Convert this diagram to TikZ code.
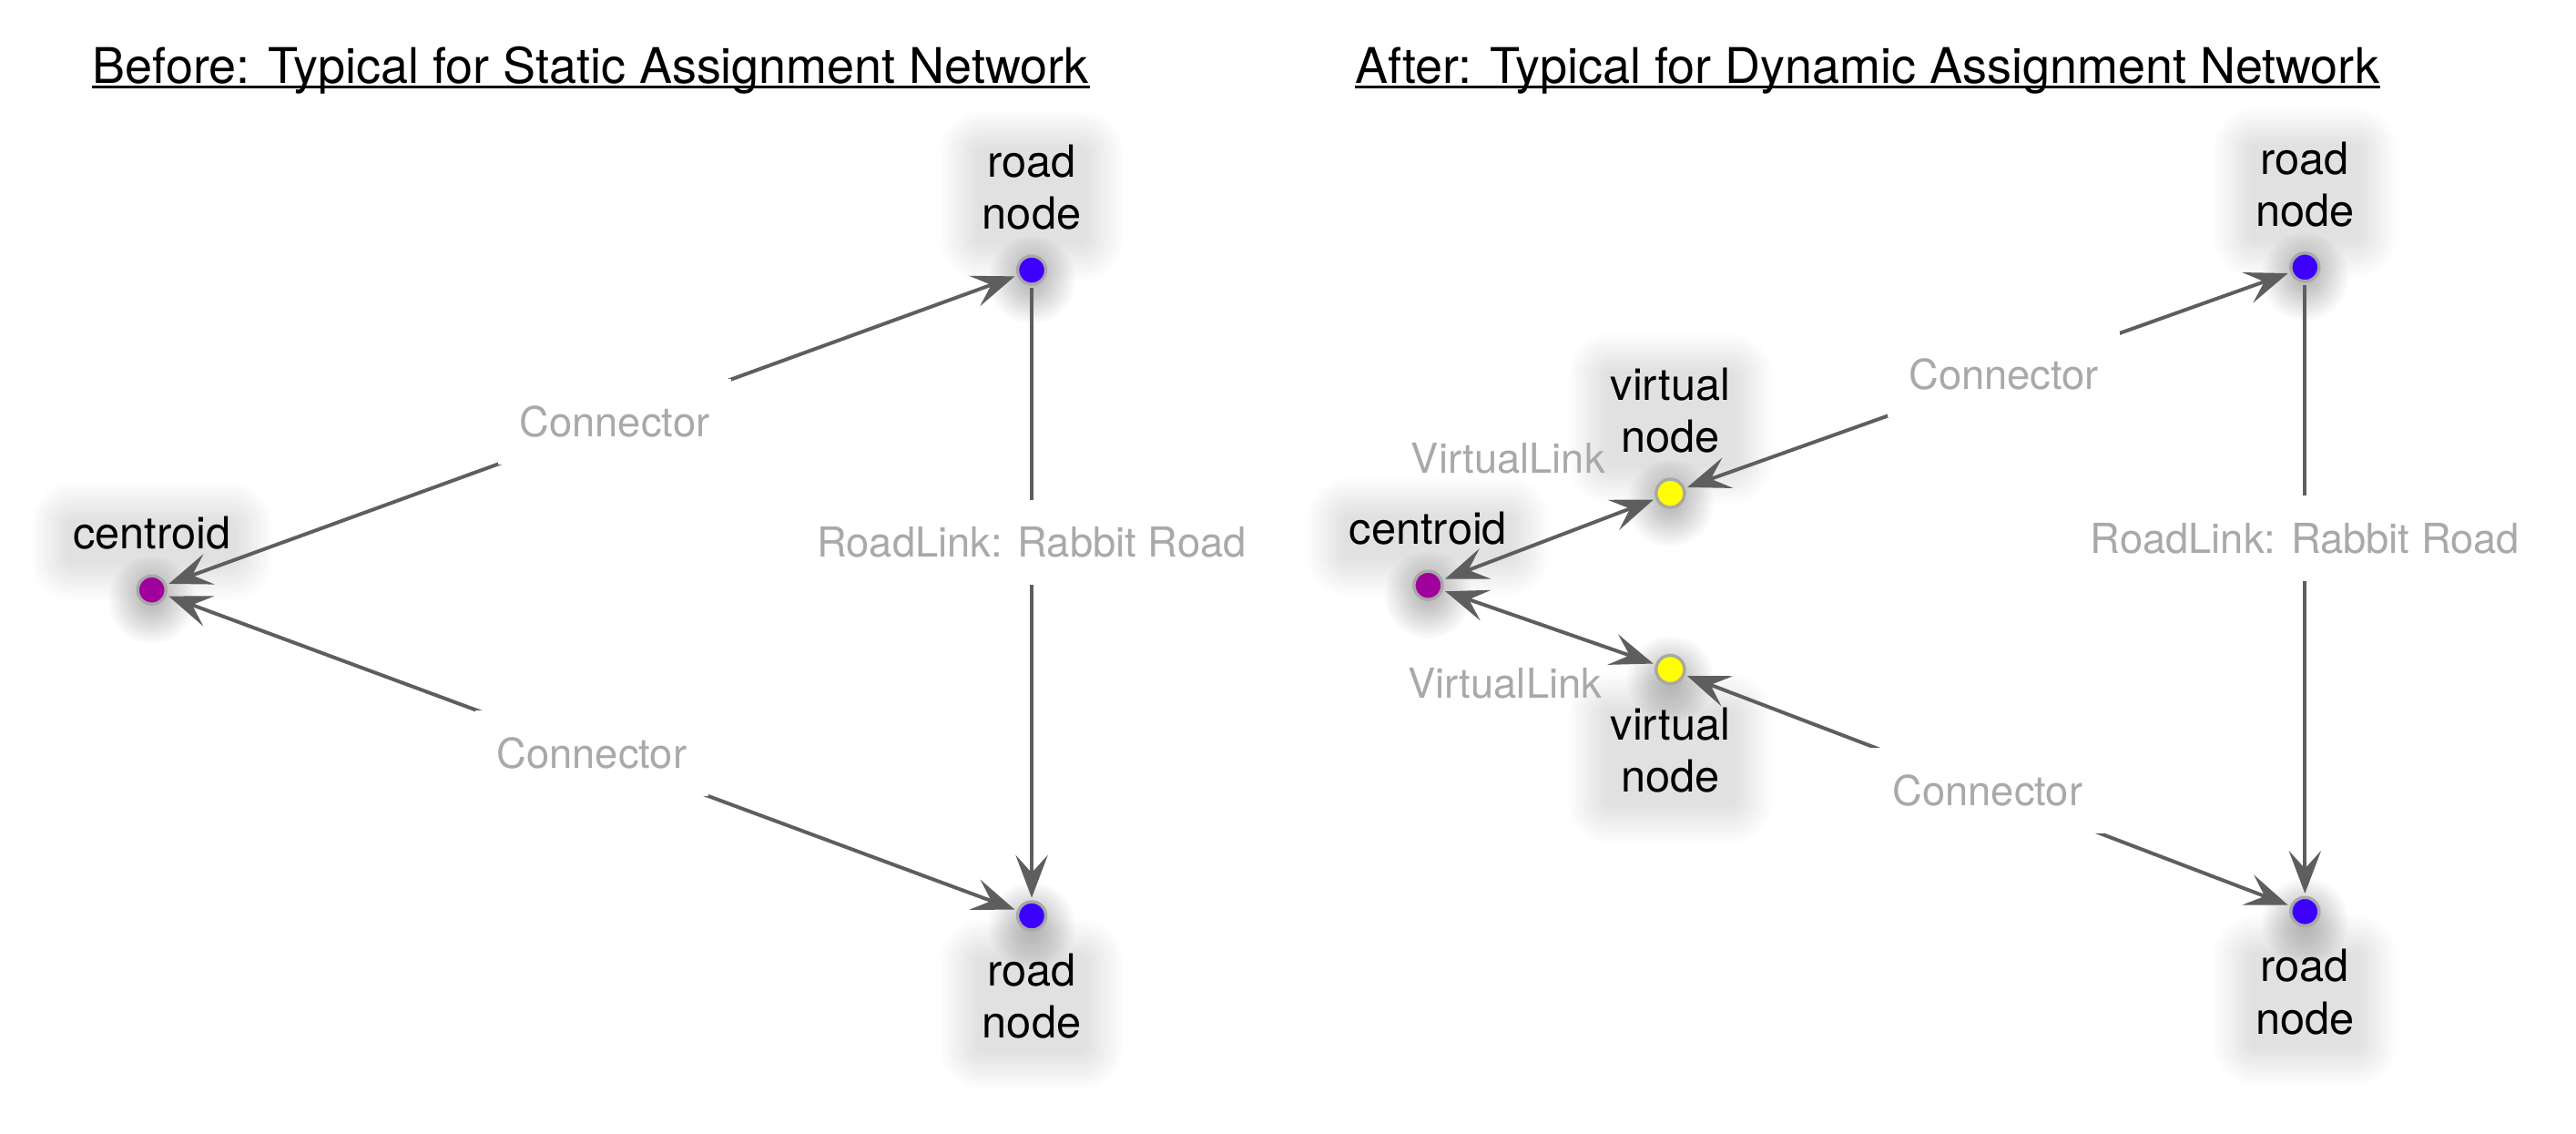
\documentclass[tikz,border=0pt]{standalone}
\usepackage{fontspec}
\setmainfont{TeX Gyre Heros}
\usetikzlibrary{arrows.meta}
\definecolor{edgegray}{HTML}{5E5E5E}
\definecolor{lblgray}{HTML}{A9A9A9}
\definecolor{ringgray}{HTML}{A8A8A8}
\definecolor{centroidc}{HTML}{A0009C}
\definecolor{roadc}{HTML}{3D00FF}
\definecolor{virtc}{HTML}{FFFF00}
\pgfdeclarelayer{bg}
\pgfsetlayers{bg,main}
\newcommand\lblglow[1]{%
  \begin{pgfonlayer}{bg}
  \foreach \k in {0,...,14}{%
    \pgfmathsetmacro\rr{\k*0.8+1.5}%
    \pgfmathsetmacro\dd{\k*0.8-1.5}%
    \fill[black, opacity=0.0075, rounded corners=\rr pt]
      ([shift={(-\dd pt,-\dd pt-2.5pt)}]#1.south west) rectangle
      ([shift={(\dd pt,\dd pt-2.5pt)}]#1.north east);}%
  \end{pgfonlayer}}
\newcommand\dotglow[1]{%
  \begin{pgfonlayer}{bg}
  \foreach \k in {0,...,12}{%
    \pgfmathsetmacro\rr{3+\k*0.85}%
    \fill[black, opacity=0.018] ([yshift=-3pt]#1.center) circle[radius=\rr pt];}%
  \end{pgfonlayer}}
\begin{document}
\begin{tikzpicture}[x=0.5pt,y=-0.5pt,
  dot/.style={circle, draw=ringgray, line width=0.95pt, minimum size=8.6pt, inner sep=0pt, outer sep=1.2pt},
  nodelbl/.style={align=center, inner sep=3pt, font=\fontsize{13.5}{15.9}\selectfont},
  tipst/.tip={Stealth[length=13pt,width=9.8pt,inset=5.4pt]},
  conn/.style={draw=edgegray, line width=1.1pt, tipst-tipst},
  roadlink/.style={draw=edgegray, line width=1.1pt, -tipst},
  elbl/.style={fill=white, text=lblgray, font=\fontsize{12.56}{15}\selectfont, inner xsep=6.5pt, inner ysep=0pt, minimum height=26pt},
  vlbl/.style={text=lblgray, font=\fontsize{12.56}{15}\selectfont, inner sep=0pt},
  title/.style={font=\fontsize{14.95}{18}\selectfont, inner sep=0pt, anchor=base west},
  uline/.style={line width=0.6pt}
]
\begin{pgfonlayer}{bg}
\fill[white] (0,0) rectangle (1568,690);
\end{pgfonlayer}
\useasboundingbox (0,0) rectangle (1568,690);

% ---------- titles
\node[title] (tL) at (56,50.5) {Before: Typical for Static Assignment Network};
\draw[uline] ([yshift=-1.2pt]tL.base west) -- ([yshift=-1.2pt]tL.base east);
\node[title] (tR) at (824.5,50.5) {After: Typical for Dynamic Assignment Network};
\draw[uline] ([yshift=-1.2pt]tR.base west) -- ([yshift=-1.2pt]tR.base east);

% ---------- left: before
\node[nodelbl, anchor=south] (cLt) at (92.4,341) {centroid};
\node[nodelbl, anchor=south] (rL1t) at (628,146.4) {road\\node};
\node[nodelbl, anchor=north] (rL2t) at (628,573.9) {road\\node};
\node[dot, fill=centroidc] (cL) at (92.4,359) {};
\node[dot, fill=roadc] (rL1) at (628,164.4) {};
\node[dot, fill=roadc] (rL2) at (628,557.3) {};

\draw[conn] (cL) -- node[elbl, pos=0.527] (lL1) {Connector} (rL1);
\draw[conn] (cL) -- node[elbl, pos=0.5] (lL2) {Connector} (rL2);
\draw[roadlink] (rL1) -- node[elbl, pos=0.417] (lL3) {RoadLink: Rabbit Road} (rL2);

% ---------- right: after
\node[nodelbl, anchor=south] (cRt) at (869.3,338.2) {centroid};
\node[nodelbl, anchor=south] (vTt) at (1016.7,282.2) {virtual\\node};
\node[nodelbl, anchor=north] (vBt) at (1016.7,424) {virtual\\node};
\node[nodelbl, anchor=south] (rR1t) at (1403,144.6) {road\\node};
\node[nodelbl, anchor=north] (rR2t) at (1403,571.3) {road\\node};
\node[dot, fill=centroidc] (cR) at (869.3,356.2) {};
\node[dot, fill=virtc] (vT) at (1016.7,300.2) {};
\node[dot, fill=virtc] (vB) at (1016.7,407.4) {};
\node[dot, fill=roadc] (rR1) at (1403,162.6) {};
\node[dot, fill=roadc] (rR2) at (1403,554.7) {};

\draw[conn] (cR) -- (vT);
\draw[conn] (cR) -- (vB);
\node[vlbl] (vl1) at (918,279) {VirtualLink};
\node[vlbl] (vl2) at (916,415.7) {VirtualLink};
\draw[conn] (vT) -- node[elbl, pos=0.527] (lR1) {Connector} (rR1);
\draw[conn] (vB) -- node[elbl, pos=0.5] (lR2) {Connector} (rR2);
\draw[roadlink] (rR1) -- node[elbl, pos=0.416] (lR3) {RoadLink: Rabbit Road} (rR2);

% ---------- soft shadows behind the nodes and their labels
\lblglow{cLt}\lblglow{rL1t}\lblglow{rL2t}
\lblglow{cRt}\lblglow{vTt}\lblglow{vBt}\lblglow{rR1t}\lblglow{rR2t}
\dotglow{cL}\dotglow{rL1}\dotglow{rL2}
\dotglow{cR}\dotglow{vT}\dotglow{vB}\dotglow{rR1}\dotglow{rR2}
\end{tikzpicture}
\end{document}
